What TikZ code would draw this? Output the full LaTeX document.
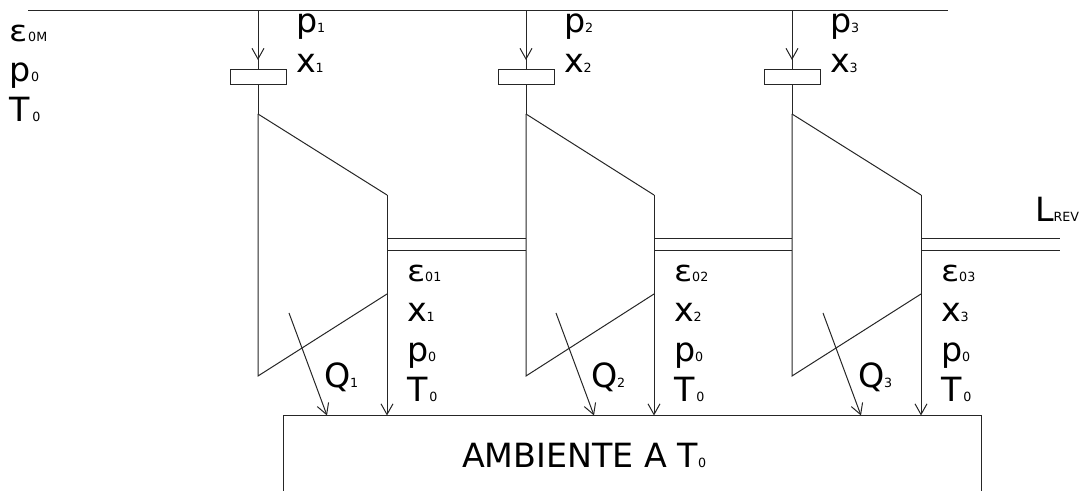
\documentclass[tikz,border=0pt]{standalone}
\usepackage{fontspec}
\setmainfont{DejaVu Sans}
\usetikzlibrary{arrows.meta}
\definecolor{ln}{gray}{0.15}
\newcommand{\lab}[2]{{\fontsize{25}{25}\selectfont #1}{\fontsize{9.5}{12}\selectfont #2}}
\newcommand{\eps}[1]{\scalebox{1.15}[1]{\fontsize{22}{22}\selectfont ε}{\fontsize{9.5}{12}\selectfont #1}}
\tikzset{
  x=0.75pt,y=-0.75pt,
  wire/.style={draw=ln,line width=0.75pt},
  arr/.style={wire,-{Straight Barb[length=8pt,width=9pt,line width=0.75pt]}},
  txt/.style={anchor=base west,inner sep=0pt,outer sep=0pt,text=black},
  valve/.style={draw=ln,line width=0.75pt,fill=white,minimum width=42pt,minimum height=11.25pt,inner sep=0pt,outer sep=0pt}
}
\begin{document}
\begin{tikzpicture}
\useasboundingbox (0,0) rectangle (1083,491);
% main supply line
\coordinate (ms) at (28,11);
\coordinate (me) at (948,11);
\draw[wire] (ms) -- (me);
% ambient box, open at the bottom
\coordinate (bl) at (283,491);
\coordinate (tl) at (283,415.5);
\coordinate (tr) at (981,415.5);
\coordinate (br) at (981,491);
\draw[wire] (bl) -- (tl) -- (tr) -- (br);
% turbines
\foreach \i/\xa/\xb/\lx/\px in {1/258/387/407/296, 2/526/654/674/564, 3/792/921/941/830}{
  \coordinate (top\i) at (\xa,11);
  \coordinate (tip\i) at (\xa,60);
  \node[valve] (v\i) at (\xa,77.5) {};
  \coordinate (ta\i) at (\xa,114);
  \coordinate (tb\i) at (\xb,195);
  \coordinate (tc\i) at (\xb,294);
  \coordinate (td\i) at (\xa,376);
  \coordinate (out\i) at (\xb,415.5);
  \coordinate (qs\i) at ({\xb-98},313);
  \coordinate (qe\i) at ({\xb-60},415.5);
  \draw[wire] (top\i) -- (v\i.north);
  \draw[arr] (top\i) -- (tip\i);
  \draw[wire] (v\i.south) -- (ta\i);
  \draw[wire] (ta\i) -- (tb\i);
  \draw[wire] (ta\i) -- (td\i) -- (tc\i);
  \draw[arr] (tb\i) -- (out\i);
  \draw[arr] (qs\i) -- (qe\i);
  \node[txt] (p\i) at (\px,33) {\lab{p}{\i}};
  \node[txt] (x\i) at (\px,73) {\lab{x}{\i}};
  \node[txt] (e\i) at (\lx,282) {\eps{0\i}};
  \node[txt] (xo\i) at (\lx,322) {\lab{x}{\i}};
  \node[txt] (po\i) at (\lx,362) {\lab{p}{0}};
  \node[txt] (To\i) at (\lx,402) {\lab{T}{\,0}};
  \node[txt] (Q\i) at ({\xb-63},388) {\lab{Q}{\i}};
}
% shafts
\coordinate (send) at (1060,239);
\coordinate (send2) at (1060,251);
\foreach \a/\b/\c in {1/2/s1, 2/3/s2}{
  \path (tb\a) ++(0,44) coordinate (\c u);
  \path (tb\a) ++(0,56) coordinate (\c l);
  \path (ta\b) |- coordinate (\c U) (\c u);
  \path (ta\b) |- coordinate (\c L) (\c l);
  \draw[wire] (\c u) -- (\c U);
  \draw[wire] (\c l) -- (\c L);
}
\path (tb3) |- coordinate (s3u) (send);
\path (tb3) |- coordinate (s3l) (send2);
\draw[wire] (s3u) -- (send);
\draw[wire] (s3l) -- (send2);
% free labels
\node[txt] (em) at (10,42) {\eps{0M}};
\node[txt] (p0) at (10,82) {\lab{p}{0}};
\node[txt] (T0) at (10,122) {\lab{T}{\,0}};
\node[txt] (L) at (1035,222) {\lab{L}{REV}};
\node[txt] (amb) at (462,468) {\lab{AMBIENTE A T}{0}};
\end{tikzpicture}
\end{document}
